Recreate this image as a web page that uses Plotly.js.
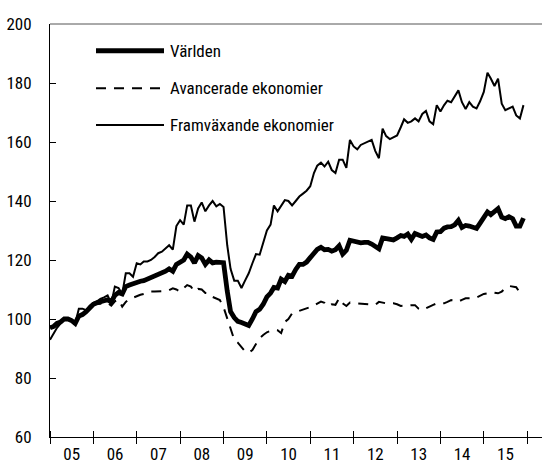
<!DOCTYPE html>
<html>
<head>
<meta charset="utf-8">
<script src="https://cdn.plot.ly/plotly-3.0.1.min.js"></script>
<style>html,body{margin:0;padding:0;background:#fff;}#chart{width:542px;height:466px;}</style>
</head>
<body>
<div id="chart"></div>
<script>
// Monthly series, Jan 2005 onward (index, 2005-01 = 100 approx.)
var startYear = 2005;
var seriesNames = ["Världen", "Avancerade ekonomier", "Framväxande ekonomier"];

var worldVals = [
  97, 97.5, 98.5, 99, 100, 100, 99.5, 98.5, 101, 101.5, 102.5, 103.5,
  105, 105.5, 106, 106.2, 106.5, 105.8, 108, 109, 108.5, 111, 111.5, 112,
  112.5, 112.8, 113, 113.5, 114, 114.3, 115, 115.5, 116.2, 117, 116.2, 118.5,
  119.2, 120, 122, 121, 119, 121.5, 120.7, 118.5, 120, 119, 119.3, 119.2,
  119.1, 109.5, 102.5, 100.5, 99.2, 98.8, 98.2, 97.8, 100, 102.5, 103.3, 105,
  107.5, 108.8, 110.7, 110.5, 113.5, 112.7, 114.8, 114.5, 116.8, 118.5, 118.5, 119.3,
  120.8, 122.5, 123.6, 124.3, 123.5, 123.6, 123, 123.5, 124.8, 122, 123.3, 126.7,
  126.4, 126.1, 125.8, 126, 126, 125.4, 124.8, 123.8, 127.5, 127.2, 126.8, 126.8,
  127.5, 128.3, 128, 128.8, 127, 129, 128.5, 128, 128.5, 127.5, 127, 129.5,
  129.6, 130.8, 131.2, 131.3, 131.9, 133.4, 131, 131.7, 131.5, 131.2, 130.7, 132.5,
  134.5, 136.3, 135.4, 136.5, 137.4, 134.5, 134, 134.7, 134, 131.5, 131.5, 134.2
];

var advancedVals = [
  97, 97.5, 98.5, 99.2, 100, 100, 99.5, 98.5, 100.5, 101.5, 102.5, 103.5,
  105, 105, 105.2, 105.5, 105.5, 104.5, 106, 106.5, 104.2, 105.8, 106.8, 107.2,
  107.8, 108.2, 108.5, 109, 109.3, 109.3, 109.4, 109.3, 109.5, 109.8, 110.4, 110,
  109.3, 110.5, 111.5, 111, 109.3, 110.2, 110, 108.8, 108.7, 107.5, 106.8, 106.4,
  104, 100, 96.5, 93, 92, 90.3, 89, 88.6, 89.5, 91.5, 93.5, 94.6,
  95.5, 96, 96.3, 96.2, 95.2, 99, 100, 101.9, 102.3, 102.8, 103.2, 103.6,
  104, 104.5, 105.2, 105.9, 105.5, 104.3, 105, 104.8, 107, 105.3, 104.4, 105.6,
  105.4, 105.3, 105.3, 105.1, 105, 104.8, 104.8, 105.8, 105.5, 105.3, 105.3, 105.3,
  105, 104.4, 104.5, 104.7, 104.7, 104.7, 103.5, 103, 103.5, 104.2, 104.8, 105.3,
  105.3, 105.3, 105.8, 106.4, 106, 105.9, 106.5, 107, 107, 107, 107.3, 107.8,
  108.5, 108.7, 109, 108.9, 108.7, 109.3, 110.5, 111.2, 111, 110.8, 108.9, 108.5
];

var emergingVals = [
  93, 95, 97, 98.5, 100, 100, 99.5, 98.5, 103.5, 103.5, 103, 104.5,
  105.5, 106, 106.8, 107.3, 108, 105.3, 111, 110.5, 108.5, 115.5, 115.5, 114.3,
  118.9, 118.5, 119.5, 119.5, 120, 121, 122.3, 122.8, 124, 125, 123.5, 131.5,
  133.5, 132, 138.5, 138.5, 133, 137.5, 139.5, 136.5, 138.5, 140, 138.2, 139,
  138, 125, 117, 113, 113, 110.5, 113, 115.5, 118.9, 122, 121.8, 126,
  130, 132, 138.5, 136.5, 138.5, 140.3, 140, 138.5, 140, 141.5, 142.5, 143.5,
  145, 149.5, 152, 153, 151.7, 153.3, 150.5, 149.5, 154, 154, 151.2, 160.7,
  158.5, 157.5, 159, 159.5, 160, 160.7, 157, 154.5, 164.5, 162, 161, 161.5,
  162.2, 165, 167.7, 166.5, 167, 168, 167, 169.5, 170.5, 167, 166, 172.5,
  170.3, 172.5, 174, 173.5, 175.4, 177.5, 173.5, 171.2, 173.5, 172, 171.4, 173.8,
  177, 183.5, 181.5, 179, 181.5, 173, 170.8, 171.5, 172, 169, 168, 172.5
];

var yearTicks = ["2005","2006","2007","2008","2009","2010","2011","2012","2013","2014","2015","2016"];

// month dates for the x axis
var months = [];
for (var i = 0; i < worldVals.length; i++) {
  var yy = startYear + Math.floor(i / 12);
  var mm = (i % 12) + 1;
  months.push(yy + "-" + (mm < 10 ? "0" + mm : mm) + "-01");
}
var tickDates = yearTicks.map(function (y) { return y + "-01-01"; });

var FONT = "'Roboto Condensed', 'DejaVu Sans Condensed', sans-serif";
var FS = 17;
var xRange = ["2005-01-01", "2016-05-05"];

var traces = [
  { x: months, y: advancedVals, type: "scatter", mode: "lines", name: seriesNames[1],
    line: { color: "#000", width: 2, dash: "10px,8px" }, hoverinfo: "skip" },
  { x: months, y: emergingVals, type: "scatter", mode: "lines", name: seriesNames[2],
    line: { color: "#000", width: 2 }, hoverinfo: "skip" },
  { x: months, y: worldVals, type: "scatter", mode: "lines", name: seriesNames[0],
    line: { color: "#000", width: 4.8 }, hoverinfo: "skip" },
  { x: months, y: worldVals, type: "scatter", mode: "lines", xaxis: "x2", showlegend: false,
    line: { color: "rgba(0,0,0,0)", width: 0 }, hoverinfo: "skip" }
];

// legend drawn manually (long line samples)
var legY = [0.9354, 0.8443, 0.7554];
var legDash = ["solid", "10px,8px", "solid"];
var legW = [5, 2, 2];
var shapes = [];
var annotations = [];
for (var k = 0; k < 3; k++) {
  shapes.push({ type: "line", xref: "paper", yref: "paper", x0: 0.0935, x1: 0.2317, y0: legY[k], y1: legY[k],
    line: { color: "#000", width: legW[k], dash: legDash[k] } });
  annotations.push({ xref: "paper", yref: "paper", x: 0.2395, y: legY[k], xanchor: "left", yanchor: "middle",
    text: seriesNames[k], showarrow: false, font: { family: FONT, size: FS, color: "#000" } });
}
// top frame line (grey)
shapes.push({ type: "line", xref: "paper", yref: "paper", x0: 0, x1: 1, y0: 1, y1: 1,
  line: { color: "#555", width: 1 } });

var layout = {
  width: 542, height: 466,
  margin: { l: 50, r: 0, t: 24, b: 29, pad: 0 },
  paper_bgcolor: "#fff", plot_bgcolor: "#fff",
  showlegend: false,
  font: { family: FONT, size: FS, color: "#000" },
  xaxis: {
    type: "date", range: xRange, tickvals: tickDates, showticklabels: false,
    ticks: "outside", ticklen: 6, tickwidth: 1, tickcolor: "#000",
    showline: true, linecolor: "#000", linewidth: 1, mirror: false,
    showgrid: false, zeroline: false, fixedrange: true
  },
  xaxis2: {
    type: "date", range: xRange, overlaying: "x", matches: "x",
    tickmode: "linear", tick0: "2005-01-01", dtick: "M12",
    ticklabelmode: "period", tickformat: "%y",
    ticks: "inside", ticklen: 6, tickwidth: 1, tickcolor: "#000",
    showline: false, showgrid: false, zeroline: false,
    tickfont: { family: FONT, size: FS, color: "#000" }, ticklabelstandoff: 5
  },
  yaxis: {
    range: [60, 200], tickmode: "linear", tick0: 60, dtick: 20,
    ticks: "inside", ticklen: 6, tickwidth: 1, tickcolor: "#000",
    showline: true, linecolor: "#000", linewidth: 1, mirror: false,
    showgrid: false, zeroline: false,
    tickfont: { family: FONT, size: FS, color: "#000" }, ticklabelstandoff: 14
  },
  shapes: shapes,
  annotations: annotations
};

Plotly.newPlot("chart", traces, layout, { staticPlot: true, displayModeBar: false });
</script>
</body>
</html>
